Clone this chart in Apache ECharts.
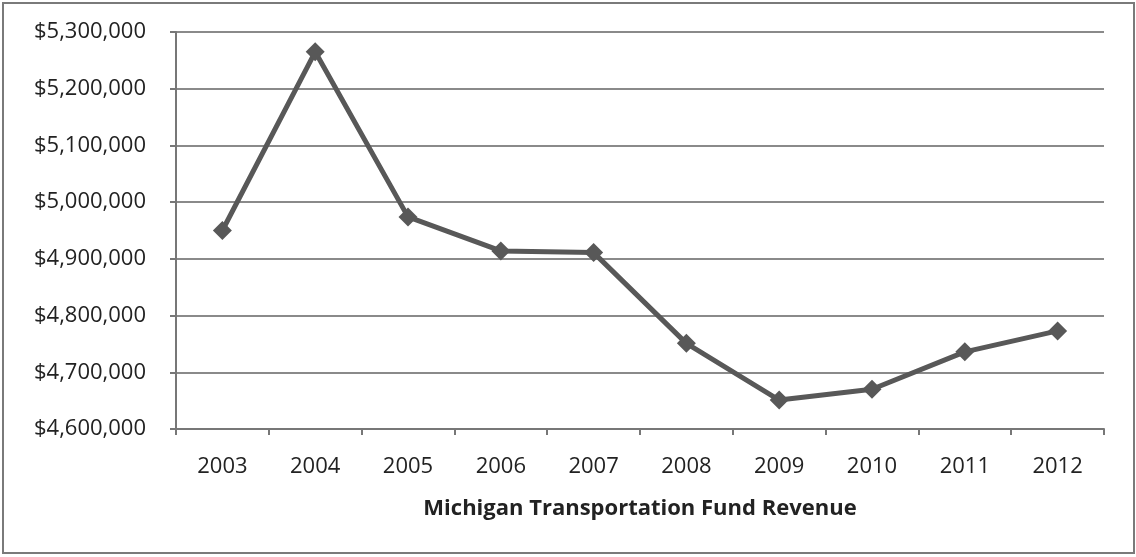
<!DOCTYPE html>
<html>
<head>
<meta charset="utf-8">
<script src="https://cdn.jsdelivr.net/npm/echarts@6/dist/echarts.min.js"></script>
<style>
html,body{margin:0;padding:0;background:#fff;}
#chart{width:1136px;height:557px;}
</style>
</head>
<body>
<div id="chart"></div>
<script>
const years = ['2003','2004','2005','2006','2007','2008','2009','2010','2011','2012'];
const revenue = [4950000, 5265000, 4974000, 4914000, 4911000, 4751000, 4651000, 4670000, 4736000, 4773000];
const axisTitle = 'Michigan Transportation Fund Revenue';

const chart = echarts.init(document.getElementById('chart'), null, {renderer: 'canvas'});
const font = '"Open Sans", "DejaVu Sans", sans-serif';
chart.setOption({
  animation: false,
  backgroundColor: '#ffffff',
  graphic: [{
    type: 'rect',
    shape: {x: 3, y: 3, width: 1131, height: 550},
    style: {fill: 'none', stroke: '#7a7a7a', lineWidth: 2},
    silent: true
  }],
  grid: {left: 176, right: 32, top: 32, bottom: 128, containLabel: false},
  xAxis: {
    type: 'category',
    data: years,
    boundaryGap: true,
    axisLine: {lineStyle: {color: '#777', width: 2}},
    axisTick: {show: true, length: 6, lineStyle: {color: '#777', width: 2}},
    axisLabel: {color: '#222', fontSize: 22, fontFamily: font, margin: 27},
    name: axisTitle,
    nameLocation: 'middle',
    nameGap: 69,
    nameTextStyle: {color: '#222', fontSize: 22, fontWeight: 'bold', fontFamily: font}
  },
  yAxis: {
    type: 'value',
    min: 4600000,
    max: 5300000,
    interval: 100000,
    axisLine: {show: true, lineStyle: {color: '#777', width: 2}},
    axisTick: {show: true, length: 6, lineStyle: {color: '#777', width: 2}},
    splitLine: {lineStyle: {color: '#8a8a8a', width: 2}},
    axisLabel: {
      color: '#222', fontSize: 22, fontFamily: font, margin: 30,
      formatter: v => '$' + v.toLocaleString('en-US')
    }
  },
  series: [{
    type: 'line',
    data: revenue,
    symbol: 'diamond',
    symbolSize: 19,
    lineStyle: {color: '#585858', width: 5},
    itemStyle: {color: '#585858'}
  }]
});
</script>
</body>
</html>
